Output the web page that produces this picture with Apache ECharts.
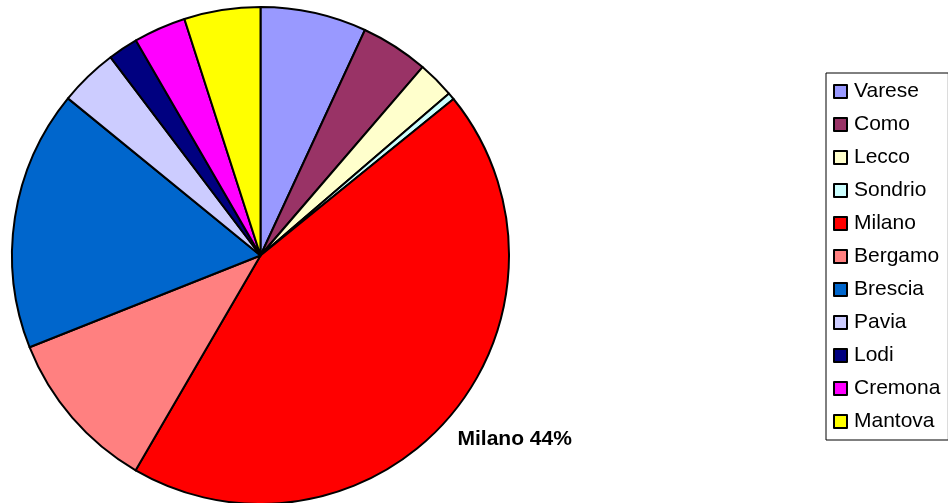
<!DOCTYPE html>
<html>
<head>
<meta charset="utf-8">
<script src="https://cdn.jsdelivr.net/npm/echarts@6/dist/echarts.min.js"></script>
<style>
  html, body { margin: 0; padding: 0; background: #fff; }
  #chart { width: 948px; height: 503px; }
</style>
</head>
<body>
<div id="chart"></div>
<script>
// Provinces of Lombardy, share of total (%)
var provinces = ['Varese', 'Como', 'Lecco', 'Sondrio', 'Milano', 'Bergamo',
                 'Brescia', 'Pavia', 'Lodi', 'Cremona', 'Mantova'];
var shares    = [6.9, 4.4, 2.4, 0.45, 44.2, 10.6, 16.9, 3.8, 1.95, 3.4, 4.95];
var colors    = ['#9999ff', '#993366', '#ffffcc', '#ccffff', '#ff0000', '#ff8080',
                 '#0066cc', '#ccccff', '#000080', '#ff00ff', '#ffff00'];
var labelled  = 'Milano';
var labelText = 'Milano 44%';

(function () {
    var font = 'Liberation Sans, Arial, sans-serif';
    var chart = echarts.init(document.getElementById('chart'));

    var data = provinces.map(function (name, i) {
        var item = { name: name, value: shares[i], itemStyle: { color: colors[i] } };
        if (name === labelled) {
            item.label = {
                show: true,
                formatter: labelText,
                fontFamily: font,
                fontWeight: 'bold',
                fontSize: 21,
                color: '#000'
            };
        }
        return item;
    });

    chart.setOption({
        animation: false,
        legend: {
            orient: 'vertical',
            left: 826,
            top: 73,
            padding: [8, 8, 8, 7],
            itemGap: 12,
            itemWidth: 13,
            itemHeight: 13,
            icon: 'rect',
            borderColor: '#000',
            borderWidth: 1,
            itemStyle: { borderColor: '#000', borderWidth: 2 },
            textStyle: { fontFamily: font, fontSize: 21, color: '#000', padding: [0, 0, 0, 2] },
            data: provinces
        },
        series: [{
            type: 'pie',
            center: [260.5, 255.5],
            radius: 248.5,
            startAngle: 90,
            clockwise: true,
            avoidLabelOverlap: false,
            itemStyle: { borderColor: '#000', borderWidth: 2 },
            label: { show: false, position: 'outside' },
            labelLine: { show: false, length: 20, length2: 0 },
            labelLayout: { dx: -12, dy: 9 },
            emphasis: { disabled: true },
            data: data
        }]
    });

    window.addEventListener('resize', function () { chart.resize(); });
})();
</script>
</body>
</html>
